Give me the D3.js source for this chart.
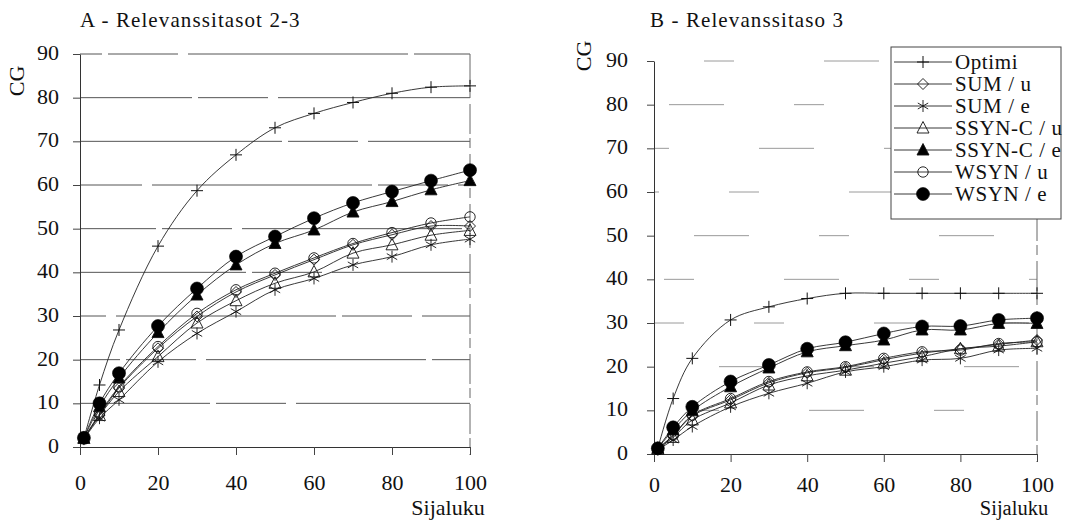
<!DOCTYPE html>
<html>
<head>
<meta charset="utf-8">
<script src="https://cdn.jsdelivr.net/npm/d3@7"></script>
<style>
  html, body { margin: 0; padding: 0; background: #fff; }
  svg { display: block; }
  text { font-family: "Liberation Serif", "Times New Roman", serif; fill: #111; }
</style>
</head>
<body>
<svg id="chart" width="1091" height="520"></svg>
<script>
// Cumulated gain (CG) by rank position
const ranks = [1, 5, 10, 20, 30, 40, 50, 60, 70, 80, 90, 100];
const seriesNames = ["Optimi", "SUM / u", "SUM / e", "SSYN-C / u", "SSYN-C / e", "WSYN / u", "WSYN / e"];
const panelTitles = ["A - Relevanssitasot 2-3", "B - Relevanssitaso 3"];
const xTicks = [0, 20, 40, 60, 80, 100];
const yTicks = [0, 10, 20, 30, 40, 50, 60, 70, 80, 90];
const xTitle = "Sijaluku";
const yTitle = "CG";

// Panel A: relevance levels 2-3
const optimiA = [2, 14.2, 26.8, 46, 58.7, 66.9, 73.1, 76.4, 78.9, 81, 82.4, 82.7];
const sumUA   = [2, 7.3, 13.5, 22.6, 29.9, 35.5, 39.4, 42.9, 46.3, 48.6, 50.6, 50.6];
const sumEA   = [1.8, 6.6, 10.8, 19.5, 26, 31, 36, 38.6, 41.7, 43.6, 46.3, 47.6];
const ssynUA  = [2, 7.2, 12.7, 20.7, 28.4, 33.5, 37.5, 40.1, 44.4, 46.3, 48.5, 49.6];
const ssynEA  = [2, 9.2, 15.8, 26.2, 34.8, 41.7, 46.6, 49.7, 53.8, 56.2, 58.9, 61];
const wsynUA  = [2, 7.6, 13.8, 23, 30.6, 36, 39.8, 43.3, 46.6, 49.1, 51.3, 52.7];
const wsynEA  = [2.1, 10, 16.9, 27.7, 36.3, 43.6, 48.2, 52.4, 55.9, 58.5, 61, 63.4];

// Panel B: relevance level 3
const optimiB = [1.3, 12.7, 21.9, 30.7, 33.7, 35.6, 36.8, 36.8, 36.8, 36.8, 36.8, 36.8];
const sumUB   = [1.2, 4.2, 8.7, 12.4, 16.3, 18.6, 19.8, 21.6, 23.1, 24.1, 25.1, 26.1];
const sumEB   = [1, 3.2, 6.3, 10.8, 13.9, 16.2, 18.8, 20, 21.5, 21.9, 23.8, 24.2];
const ssynUB  = [1.1, 3.8, 7.8, 11.7, 15.8, 17.9, 19.2, 20.8, 22.3, 24.1, 24.7, 25.7];
const ssynEB  = [1.3, 5.5, 9.9, 15.4, 19.7, 23.4, 24.8, 26.1, 28.4, 28.4, 29.9, 29.9];
const wsynUB  = [1.2, 4.3, 8.9, 12.7, 16.6, 18.8, 20, 21.9, 23.4, 23.8, 25.3, 25.7];
const wsynEB  = [1.3, 6.1, 10.8, 16.6, 20.4, 24.1, 25.6, 27.6, 29.2, 29.3, 30.7, 31.1];

const panelSeries = [
  [optimiA, sumUA, sumEA, ssynUA, ssynEA, wsynUA, wsynEA],
  [optimiB, sumUB, sumEB, ssynUB, ssynEB, wsynUB, wsynEB]
];
const markerKinds = ["plus", "diamond", "asterisk", "triangle", "triangleFilled", "circle", "circleFilled"];

// Marker glyphs drawn around (0,0)
function drawMarker(g, kind) {
  const sw = 0.9;
  if (kind === "plus") {
    g.append("path").attr("d", "M-6,0H6M0,-6V6").attr("stroke", "#111").attr("stroke-width", 1).attr("fill", "none");
  } else if (kind === "diamond") {
    g.append("path").attr("d", "M0,-5.5L5.5,0L0,5.5L-5.5,0Z").attr("stroke", "#111").attr("stroke-width", sw).attr("fill", "none");
  } else if (kind === "asterisk") {
    const a = 6, c = Math.cos(Math.PI / 6) * a, s = Math.sin(Math.PI / 6) * a;
    g.append("path").attr("d", `M0,${-a}V${a}M${-c},${-s}L${c},${s}M${-c},${s}L${c},${-s}`)
      .attr("stroke", "#111").attr("stroke-width", sw).attr("fill", "none");
  } else if (kind === "triangle" || kind === "triangleFilled") {
    const filled = kind === "triangleFilled";
    g.append("path").attr("d", "M0,-6.5L6,5L-6,5Z")
      .attr("stroke", "#111").attr("stroke-width", sw).attr("fill", filled ? "#000" : "none");
  } else if (kind === "circle") {
    g.append("circle").attr("r", 5.2).attr("stroke", "#111").attr("stroke-width", sw).attr("fill", "none");
  } else if (kind === "circleFilled") {
    g.append("circle").attr("r", 6.5).attr("stroke", "#000").attr("stroke-width", 0.6).attr("fill", "#000");
  }
}

const svg = d3.select("#chart");

const panels = [
  { left: 80, right: 470, top: 54, bottom: 447, labelPad: 14, xPad: 19, grid: "#555", dash: "220,6,70,10",
    titleX: 80, titleY: 27, cgX: 17, cgY: 81, xTitleX: 448, xTitleY: 515, xTitleSize: 22 },
  { left: 654, right: 1037, top: 61, bottom: 454, labelPad: 19, xPad: 14, grid: "#9a9a9a", dash: "55,70,30,90",
    titleX: 650, titleY: 27, cgX: 584, cgY: 56, xTitleX: 1014, xTitleY: 515, xTitleSize: 20.5 }
];

panels.forEach((p, pi) => {
  const x = d3.scaleLinear().domain([0, 100]).range([p.left, p.right]);
  const y = d3.scaleLinear().domain([0, 90]).range([p.bottom, p.top]);
  const g = svg.append("g");

  // horizontal gridlines
  g.append("g").selectAll("line").data(yTicks.filter(v => v > 0)).join("line")
    .attr("x1", p.left).attr("x2", p.right)
    .attr("y1", d => y(d)).attr("y2", d => y(d))
    .attr("stroke", p.grid).attr("stroke-width", 1)
    .attr("stroke-dasharray", p.dash)
    .attr("stroke-dashoffset", d => d * 9);

  // right frame edge
  g.append("line")
    .attr("x1", p.right).attr("x2", p.right)
    .attr("y1", y(90)).attr("y2", y(0) + 8)
    .attr("stroke", "#666").attr("stroke-width", 1)
    .attr("stroke-dasharray", "30,4,10,6");

  // y axis
  const yAxis = d3.axisLeft(y).tickValues(yTicks).tickSize(7).tickSizeOuter(0).tickPadding(p.labelPad);
  const ya = g.append("g").attr("transform", `translate(${p.left},0)`).call(yAxis);
  ya.select(".domain").attr("stroke", "#333").attr("stroke-width", 1);
  ya.selectAll(".tick line").attr("stroke", "#444");
  ya.selectAll(".tick text").attr("font-size", 22).attr("dy", "0.25em").attr("fill", "#111");

  // x axis
  const xAxis = d3.axisBottom(x).tickValues(xTicks).tickSize(8).tickSizeOuter(0).tickPadding(p.xPad);
  const xa = g.append("g").attr("transform", `translate(0,${p.bottom})`).call(xAxis);
  xa.select(".domain").attr("stroke", "#333").attr("stroke-width", 1);
  xa.selectAll(".tick line").attr("stroke", "#444");
  xa.selectAll(".tick text").attr("font-size", 22).attr("fill", "#111");

  // titles
  g.append("text").attr("x", p.titleX).attr("y", p.titleY)
    .attr("font-size", 21).attr("letter-spacing", 1.1).text(panelTitles[pi]);
  g.append("text").attr("transform", `translate(${p.cgX + 7},${p.cgY}) rotate(-90)`)
    .attr("text-anchor", "middle").attr("font-size", 22).text(yTitle);
  g.append("text").attr("x", p.xTitleX).attr("y", p.xTitleY)
    .attr("text-anchor", "middle").attr("font-size", p.xTitleSize).text(xTitle);

  // series lines
  const line = d3.line().x((d, i) => x(ranks[i])).y(d => y(d)).curve(d3.curveCatmullRom.alpha(0.5));
  panelSeries[pi].forEach(vals => {
    g.append("path").datum(vals).attr("d", line)
      .attr("fill", "none").attr("stroke", "#222").attr("stroke-width", 0.9);
  });
  // series markers
  panelSeries[pi].forEach((vals, si) => {
    vals.forEach((v, i) => {
      const m = g.append("g").attr("transform", `translate(${x(ranks[i])},${y(v)})`);
      drawMarker(m, markerKinds[si]);
    });
  });

  // legend (panel B only)
  if (pi === 1) {
    const lg = svg.append("g");
    lg.append("rect").attr("x", 891).attr("y", 47).attr("width", 170).attr("height", 172)
      .attr("fill", "#fff").attr("stroke", "#444").attr("stroke-width", 1);
    seriesNames.forEach((name, si) => {
      const ly = 62 + si * 22;
      lg.append("line").attr("x1", 894).attr("x2", 952).attr("y1", ly).attr("y2", ly)
        .attr("stroke", "#222").attr("stroke-width", 0.9);
      drawMarker(lg.append("g").attr("transform", `translate(923,${ly})`), markerKinds[si]);
      lg.append("text").attr("x", 955).attr("y", ly).attr("dy", "0.33em")
        .attr("font-size", 21).attr("letter-spacing", 0.6).text(name);
    });
  }
});
</script>
</body>
</html>
